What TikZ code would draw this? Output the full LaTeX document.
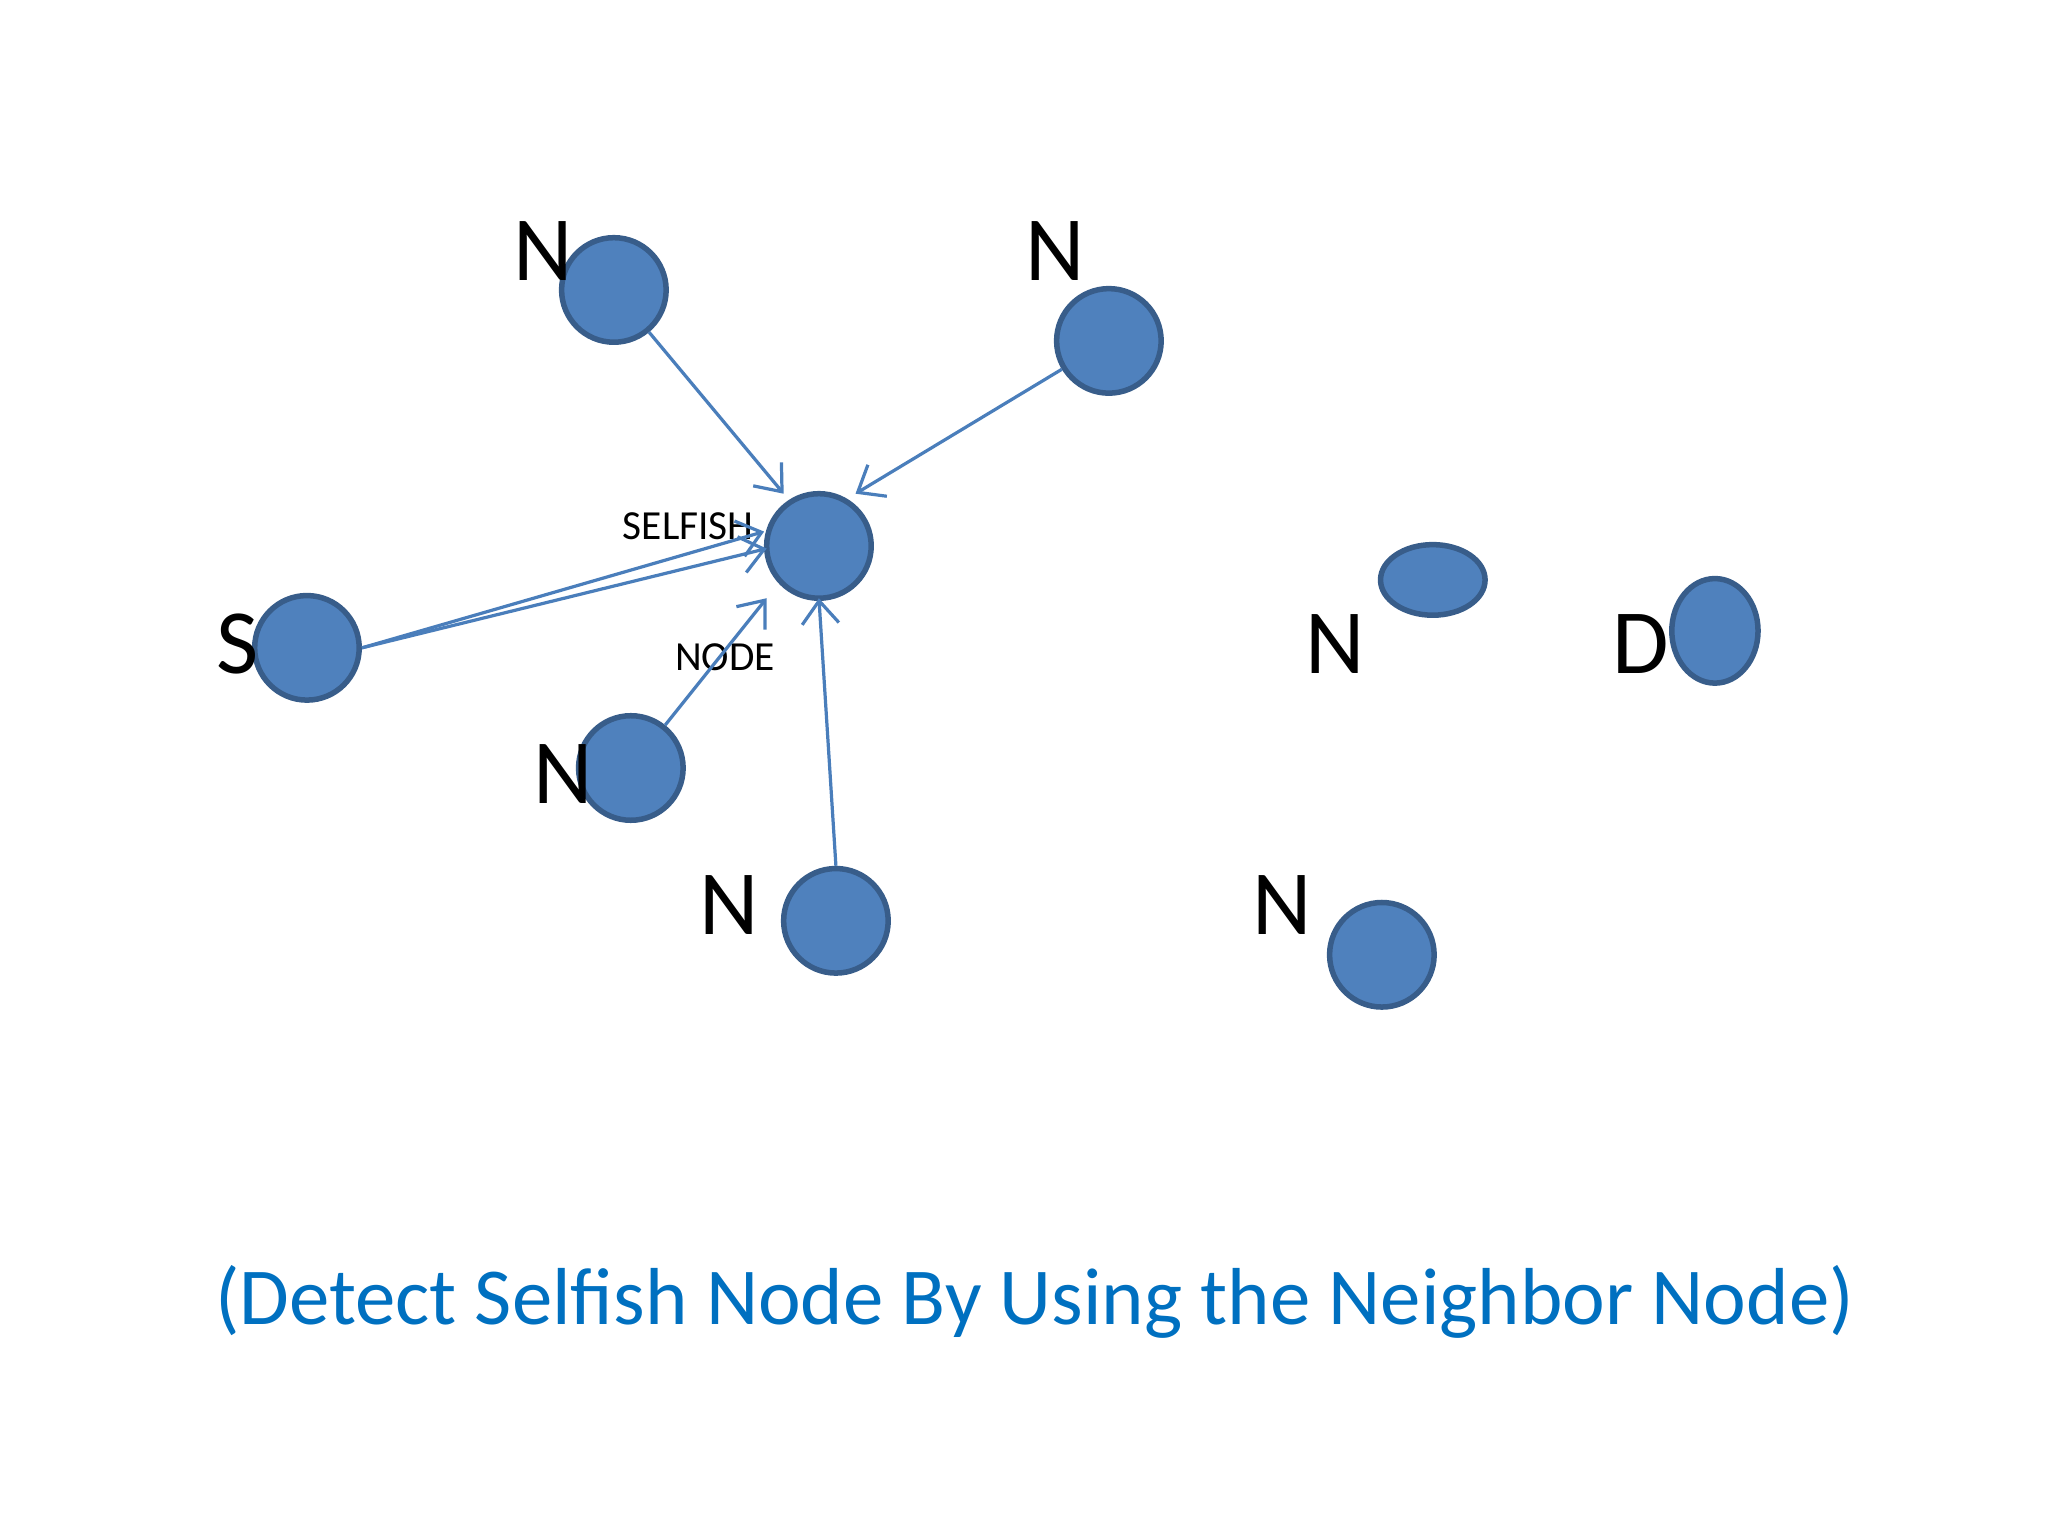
\documentclass[tikz,border=0pt]{standalone}
\usepackage{fontspec}
\setmainfont{Carlito}
\usetikzlibrary{arrows.meta,shapes.geometric}
\definecolor{nodefill}{HTML}{4F81BD}
\definecolor{nodeborder}{HTML}{385D8A}
\definecolor{linec}{HTML}{4A7EBB}
\definecolor{titlec}{HTML}{0070C0}
\begin{document}
\begin{tikzpicture}[x=0.01cm,y=-0.01cm,
  nd/.style={circle,draw=nodeborder,fill=nodefill,line width=1.2pt,minimum size=0.8cm,inner sep=0pt},
  big/.style={font=\fontsize{20}{22}\selectfont},
  sm/.style={font=\fontsize{9}{10}\selectfont},
  con/.style={draw=linec,line width=0.7pt,-{Straight Barb[length=5pt,width=8pt]}}]
\useasboundingbox (0,0) rectangle (1568,1176);
\node[nd] (n1) at (470,222) {};
\node[nd] (n2) at (849,261) {};
\node[nd] (sf) at (627,418) {};
\node[nd] (s) at (235,496) {};
\node[nd] (n3) at (483,588) {};
\node[nd] (n4) at (640,705) {};
\node[ellipse,draw=nodeborder,fill=nodefill,line width=1.2pt,minimum width=0.8cm,minimum height=0.54cm,inner sep=0pt] (n5) at (1097,444) {};
\node[ellipse,draw=nodeborder,fill=nodefill,line width=1.2pt,minimum width=0.66cm,minimum height=0.8cm,inner sep=0pt] (d) at (1313,483) {};
\node[nd] (n6) at (1058,731) {};
\node[big] (l1) at (416,192) {N};
\node[big] (l2) at (808,192) {N};
\node[big] (ls) at (182,493) {S};
\node[big] (l3) at (431,593) {N};
\node[big] (l4) at (558,693) {N};
\node[big] (l5) at (1022,493) {N};
\node[big] (ld) at (1256,493) {D};
\node[big] (l6) at (982,693) {N};
\node[sm] (lsf) at (527,403) {SELFISH};
\node[sm] (lnd) at (555,503) {NODE};
\coordinate (a1) at (600,378);
\coordinate (a2) at (655,378);
\coordinate (a3) at (585,407);
\coordinate (a4) at (587,420);
\coordinate (a5) at (587,458);
\coordinate (a6) at (627,458);
\draw[con] (n1) -- (a1);
\draw[con] (n2) -- (a2);
\draw[con] (s.east) -- (a3);
\draw[con] (s.east) -- (a4);
\draw[con] (n3) -- (a5);
\draw[con] (n4.north) -- (a6);
\node[font=\fontsize{17.6}{20}\selectfont,text=titlec] (t) at (792,997) {(Detect Selfish Node By Using the Neighbor Node)};
\end{tikzpicture}
\end{document}
